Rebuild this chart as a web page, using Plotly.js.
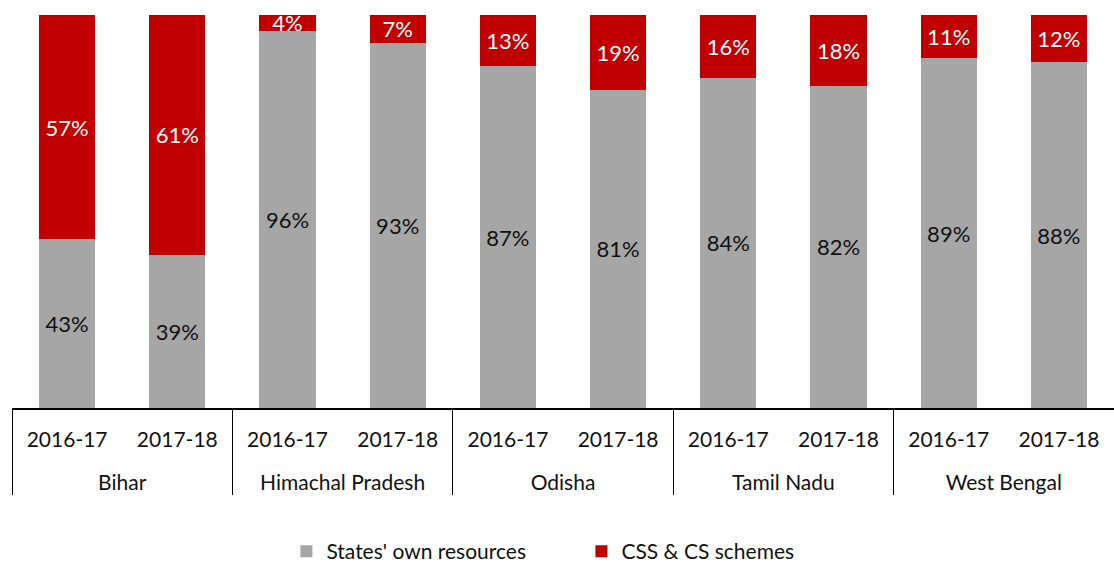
<!DOCTYPE html>
<html>
<head>
<meta charset="utf-8">
<script src="https://cdn.plot.ly/plotly-3.0.1.min.js"></script>
<style>
  body { margin: 0; background: #fff; }
  #grafica { width: 1114px; height: 572px; }
</style>
</head>
<body>
<div id="grafica"></div>
<script>
// ---------- Datos ----------
const estados = ["Bihar", "Bihar", "Himachal Pradesh", "Himachal Pradesh", "Odisha", "Odisha",
                 "Tamil Nadu", "Tamil Nadu", "West Bengal", "West Bengal"];
const anios = ["2016-17", "2017-18", "2016-17", "2017-18", "2016-17", "2017-18",
               "2016-17", "2017-18", "2016-17", "2017-18"];
const propios = [43, 39, 96, 93, 87, 81, 84, 82, 89, 88];
const css = [57, 61, 4, 7, 13, 19, 16, 18, 11, 12];

const fuente = "Lato, 'DejaVu Sans', sans-serif";

// linea vacia delante del estado para bajar el segundo nivel
const estadosEtiqueta = estados.map(e => " <br>" + e);

const trazaPropios = {
    type: "bar",
    name: "States' own resources",
    x: [estadosEtiqueta, anios],
    y: propios,
    text: propios.map(v => v + "%"),
    textposition: "inside",
    insidetextanchor: "middle",
    textfont: { color: "#111", size: 22, family: fuente },
    marker: { color: "#A6A6A6" },
    hoverinfo: "none"
};

const trazaCss = {
    type: "bar",
    name: "CSS & CS schemes",
    x: [estadosEtiqueta, anios],
    y: css,
    text: css.map(v => v + "%"),
    textposition: "inside",
    insidetextanchor: "middle",
    textfont: { color: "#fff", size: 22, family: fuente },
    marker: { color: "#C00000" },
    hoverinfo: "none"
};

Plotly.newPlot("grafica", [trazaPropios, trazaCss], {
    width: 1114,
    height: 572,
    barmode: "stack",
    bargap: 0.49,
    margin: { l: 12, r: 0, t: 15, b: 164 },
    font: { family: fuente, size: 20, color: "#111" },
    uniformtext: { mode: "show", minsize: 22 },
    showlegend: true,
    legend: {
        orientation: "h",
        x: 0.249, xanchor: "left",
        yref: "container",
        y: 0, yanchor: "bottom",
        entrywidth: 250, entrywidthmode: "pixels",
        font: { size: 21 },
        traceorder: "normal"
    },
    xaxis: {
        type: "multicategory",
        automargin: false,
        showline: true,
        linecolor: "#000",
        linewidth: 2,
        ticks: "outside",
        ticklen: 12,
        tickcolor: "rgba(0,0,0,0)",
        ticklabelstandoff: 12,
        showdividers: true,
        dividercolor: "#000",
        dividerwidth: 1,
        tickfont: { size: 21 },
        showgrid: false
    },
    yaxis: {
        range: [0, 100],
        visible: false,
        showgrid: false,
        zeroline: false
    },
    plot_bgcolor: "#fff",
    paper_bgcolor: "#fff"
}, { displayModeBar: false });
</script>
</body>
</html>
